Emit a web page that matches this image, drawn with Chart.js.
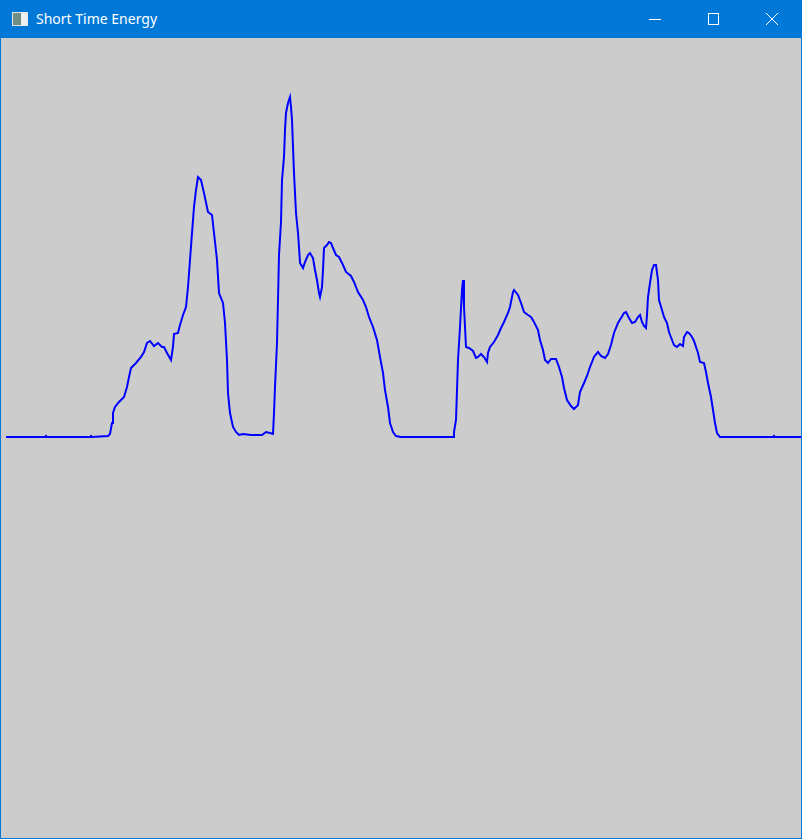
<!DOCTYPE html>
<html>
<head>
<meta charset="utf-8">
<script src="https://cdn.jsdelivr.net/npm/chart.js@4/dist/chart.umd.min.js"></script>
<style>
  html, body { margin: 0; padding: 0; background: #cccccc; overflow: hidden; }
  #win { position: absolute; left: 0; top: 0; width: 802px; height: 839px; background: #cccccc; box-sizing: border-box; border: 1px solid #0078d7; border-top: none; }
  #title { position: absolute; left: 0; top: 0; width: 802px; height: 38px; background: #0078d7; z-index: 2; }
  #ttext { position: absolute; left: 35px; top: 9px; color: #ffffff; font-family: "Noto Sans", "Open Sans", sans-serif; font-size: 14px; line-height: 20px; white-space: nowrap; }
  #icon { position: absolute; left: 11px; top: 12px; width: 14px; height: 12px; border: 1px solid #e6e6e6; background: #6e8f85; }
  #icon div { position: absolute; left: 8px; top: 0; width: 6px; height: 12px; background: #f0f0f0; }
  #btns { position: absolute; left: 0; top: 0; }
  #wrap { position: absolute; left: 0; top: 37px; width: 802px; height: 800px; z-index: 1; }
</style>
</head>
<body>
<div id="win">
  <div id="title">
    <div id="icon"><div></div></div>
    <div id="ttext">Short Time Energy</div>
    <svg id="btns" width="802" height="38">
      <line x1="648" y1="19.5" x2="660" y2="19.5" stroke="#ffffff" stroke-width="1"/>
      <rect x="707.5" y="13.5" width="10" height="11" fill="none" stroke="#ffffff" stroke-width="1"/>
      <line x1="765" y1="13" x2="777" y2="25" stroke="#ffffff" stroke-width="1"/>
      <line x1="777" y1="13" x2="765" y2="25" stroke="#ffffff" stroke-width="1"/>
    </svg>
  </div>
  <div id="wrap"><canvas id="c" width="802" height="800"></canvas></div>
</div>
<script>
const frames = [5,44,45,46,89,90,91,107,109,111,112,114,118,123,126,128,130,135,140,143,146,149,153,157,161,163,166,170,172,173,177,179,182,185,187,189,191,193,195,197,200,203,207,211,213,216,218,222,224,226,227,229,232,235,238,242,250,261,265,269,272,273,274,276,277,278,280,281,283,284,285,287,289,290,291,292,293,295,297,298,299,302,304,307,309,312,314,316,318,319,321,322,323,326,328,330,332,335,338,342,345,350,353,357,362,365,368,372,376,379,382,384,387,389,392,395,400,452,453,455,456,457,459,461,462,463,464,465,468,472,475,477,480,483,486,487,489,493,497,500,503,507,509,512,513,517,520,523,527,530,533,537,539,542,544,547,550,555,558,561,563,566,570,573,577,579,583,586,589,593,597,600,604,607,610,613,617,620,623,625,628,631,634,637,639,641,643,645,646,647,649,651,653,655,657,658,661,663,666,668,671,673,676,679,682,683,686,688,691,693,697,699,703,705,707,710,712,714,716,719,772,773,774,800];
const energy = [0,0,1,0,0,1,0,1,3,14,24,30,35,40,50,60,69,74,80,85,94,96,91,94,90,90,84,77,90,103,104,112,122,130,150,177,204,230,247,260,257,244,225,222,204,177,144,134,114,77,44,24,10,5,2,3,2,2,5,4,3,24,50,94,137,182,215,257,280,307,324,334,340,330,317,290,264,224,204,190,174,169,175,182,184,179,167,157,144,140,150,167,189,192,195,194,189,182,180,172,165,161,155,145,137,130,120,110,97,80,64,47,30,14,5,1,0,0,5,17,47,77,110,147,157,130,110,90,89,86,79,80,83,80,75,84,90,95,102,109,115,124,130,145,147,142,134,125,122,120,115,107,97,87,77,74,78,78,70,60,49,37,31,28,32,45,54,61,70,80,85,81,79,83,92,104,114,119,124,125,119,114,115,120,122,115,111,109,122,140,154,167,172,172,157,137,127,120,114,105,97,92,90,93,91,100,105,104,100,96,84,75,74,65,54,40,27,14,4,0,0,1,0,0];
const xRange = [0, 802];
const yRange = [-400, 400];

const points = frames.map((f, i) => ({ x: f, y: energy[i] }));

new Chart(document.getElementById('c'), {
  type: 'line',
  data: { datasets: [{ data: points, borderColor: '#0000ff', borderWidth: 2, pointRadius: 0, tension: 0, fill: false }] },
  options: {
    responsive: false,
    animation: false,
    layout: { padding: 0 },
    plugins: { legend: { display: false }, tooltip: { enabled: false } },
    scales: {
      x: { type: 'linear', min: xRange[0], max: xRange[1], display: false },
      y: { type: 'linear', min: yRange[0], max: yRange[1], display: false }
    }
  }
});
</script>
</body>
</html>
